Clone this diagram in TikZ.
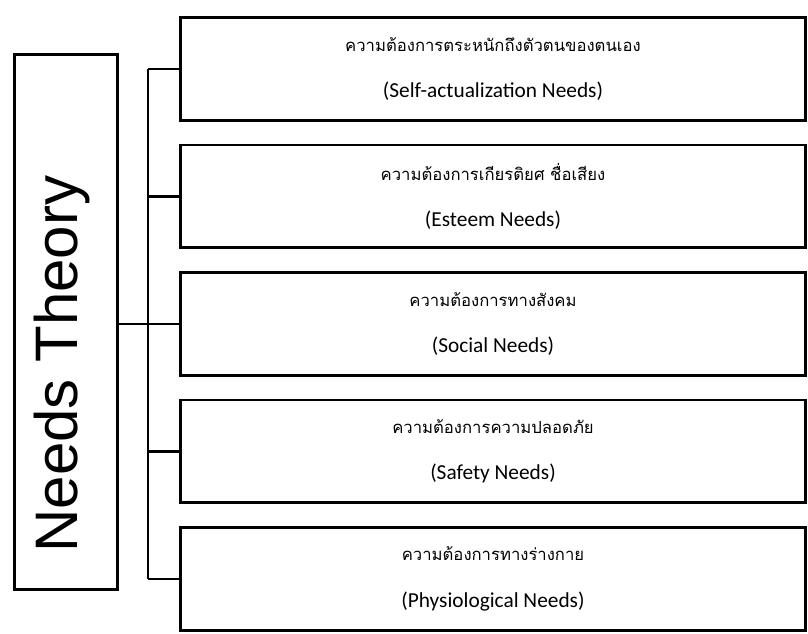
\documentclass[tikz,border=0pt]{standalone}
\usepackage{fontspec}
\setmainfont{Carlito}
\newfontfamily\thaifont[Script=Thai]{Loma}
\newfontfamily\titlefont{Liberation Sans}
\usetikzlibrary{positioning}

\begin{document}
\begin{tikzpicture}[x=0.75pt,y=-0.75pt,line width=2pt,node distance=95.6pt,
  need node/.style={rectangle,draw,fill=white,minimum width=469pt,minimum height=77pt,
    inner sep=0pt,align=center,font=\fontsize{16}{18}\selectfont},
  theory node/.style={rectangle,draw,minimum width=77pt,minimum height=401pt,inner sep=0pt}]

 \useasboundingbox (0,0) rectangle (808,634);

 \node[need node] (self) at (493,69) {{\thaifont\fontsize{12.5}{14}\selectfont ความต้องการตระหนักถึงตัวตนของตนเอง}\\[17pt](Self-actualization Needs)};
 \node[need node] (esteem) [below of=self] {{\thaifont\fontsize{12.5}{14}\selectfont ความต้องการเกียรติยศ ชื่อเสียง}\\[17pt](Esteem Needs)};
 \node[need node] (social) [below of=esteem] {{\thaifont\fontsize{12.5}{14}\selectfont ความต้องการทางสังคม}\\[17pt](Social Needs)};
 \node[need node] (safety) [below of=social] {{\thaifont\fontsize{12.5}{14}\selectfont ความต้องการความปลอดภัย}\\[17pt](Safety Needs)};
 \node[need node] (body) [below of=safety] {{\thaifont\fontsize{12.5}{14}\selectfont ความต้องการทางร่างกาย}\\[17pt](Physiological Needs)};

 \node[theory node] (theory) at (66,322) {};
 \node[rotate=90,font=\titlefont\fontsize{45}{50}\selectfont] (title) at (62,364) {Needs Theory};

 \coordinate (trunk) at (148,322);
 \draw (theory.east |- social.west) -- (trunk |- social.west);
 \draw (trunk |- self.west) -- (trunk |- body.west);
 \draw (trunk |- self.west) -- (self.west);
 \draw (trunk |- esteem.west) -- (esteem.west);
 \draw (trunk |- social.west) -- (social.west);
 \draw (trunk |- safety.west) -- (safety.west);
 \draw (trunk |- body.west) -- (body.west);

\end{tikzpicture}
\end{document}
